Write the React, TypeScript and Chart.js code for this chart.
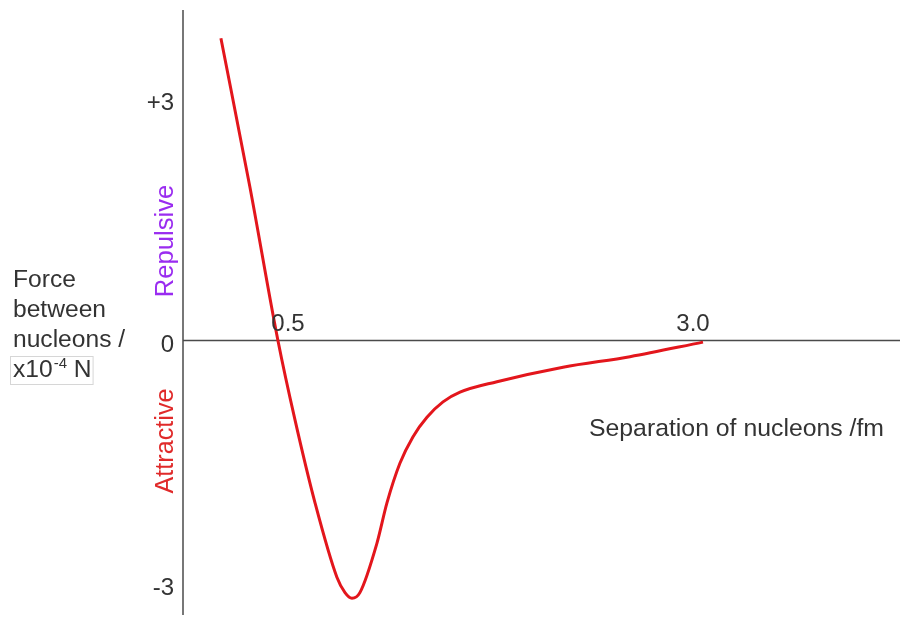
import React, { useEffect, useRef } from "react";
import { Chart, registerables } from "chart.js";

Chart.register(...registerables);

// Curve: separation (fm) vs force (x10^-4 N)
const separationFm: number[] = [0.086, 0.265, 0.438, 0.543, 0.667, 0.802, 0.852, 0.895, 0.944, 1.049, 1.111, 1.191, 1.272, 1.358, 1.457, 1.562, 1.79, 2.198, 2.611, 3.062];
const forceValues: number[] = [3.74, 1.9, 0.0, -0.98, -2.01, -2.93, -3.12, -3.19, -3.12, -2.51, -2.01, -1.52, -1.19, -0.95, -0.76, -0.64, -0.51, -0.33, -0.2, -0.02];

const xTickValues: number[] = [0.5, 3.0];
const xTickLabels: string[] = ["0.5", "3.0"];
const yTickValues: number[] = [3, 0, -3];
const yTickLabels: string[] = ["+3", "0", "-3"];

const yTitleLines: string[] = ["Force", "between", "nucleons /"];
const xTitle = "Separation of nucleons /fm";
const repulsiveLabel = "Repulsive";
const attractiveLabel = "Attractive";

const FONT = "'Liberation Sans', Arial, sans-serif";
const TEXT = "#333333";

const overlay = {
  id: "overlay",
  beforeDatasetsDraw(chart: any) {
    const { ctx, chartArea, scales } = chart;
    const y = scales.y;
    ctx.save();
    ctx.strokeStyle = "#4a4a4a";
    ctx.lineWidth = 1.5;
    const y0 = y.getPixelForValue(0);
    ctx.beginPath();
    ctx.moveTo(chartArea.left, chartArea.top);
    ctx.lineTo(chartArea.left, chartArea.bottom);
    ctx.stroke();
    ctx.beginPath();
    ctx.moveTo(chartArea.left, y0);
    ctx.lineTo(chartArea.right, y0);
    ctx.stroke();
    ctx.restore();
  },
  afterDatasetsDraw(chart: any) {
    const { ctx, chartArea, scales } = chart;
    const x = scales.x;
    const y = scales.y;
    const y0 = y.getPixelForValue(0);
    ctx.save();
    ctx.fillStyle = TEXT;
    ctx.font = `24px ${FONT}`;
    // x tick labels above the axis
    ctx.textAlign = "center";
    ctx.textBaseline = "alphabetic";
    xTickValues.forEach((v, i) => {
      ctx.fillText(xTickLabels[i], x.getPixelForValue(v), y0 - 9);
    });
    // y tick labels
    ctx.textAlign = "right";
    ctx.textBaseline = "middle";
    yTickValues.forEach((v, i) => {
      ctx.fillText(yTickLabels[i], chartArea.left - 9, y.getPixelForValue(v) + 5);
    });
    // y title block
    ctx.font = `24.6px ${FONT}`;
    ctx.textAlign = "left";
    ctx.textBaseline = "alphabetic";
    yTitleLines.forEach((t, i) => {
      ctx.fillText(t, 13, 287 + i * 30);
    });
    // x10^-4 N with box
    const bx = 13;
    const by = 377;
    ctx.fillText("x10", bx, by);
    const w = ctx.measureText("x10").width;
    ctx.font = `15px ${FONT}`;
    ctx.fillText("-4", bx + w + 1, by - 9);
    const w2 = ctx.measureText("-4").width;
    ctx.font = `24.6px ${FONT}`;
    ctx.fillText(" N", bx + w + 1 + w2, by);
    const w3 = ctx.measureText(" N").width;
    ctx.strokeStyle = "#d6d6d6";
    ctx.lineWidth = 1;
    ctx.strokeRect(10.5, 356.5, w + w2 + w3 + 5, 28);
    // x title
    ctx.font = `24.8px ${FONT}`;
    ctx.fillText(xTitle, 589, 436);
    // Repulsive / Attractive rotated
    ctx.textAlign = "center";
    ctx.textBaseline = "middle";
    ctx.save();
    ctx.translate(166, 241);
    ctx.rotate(-Math.PI / 2);
    ctx.font = `25.6px ${FONT}`;
    ctx.fillStyle = "#9a2cf0";
    ctx.fillText(repulsiveLabel, 0, 0);
    ctx.restore();
    ctx.save();
    ctx.translate(166, 441);
    ctx.rotate(-Math.PI / 2);
    ctx.font = `25.2px ${FONT}`;
    ctx.fillStyle = "#e02a2a";
    ctx.fillText(attractiveLabel, 0, 0);
    ctx.restore();
    ctx.restore();
  },
};

export default function App() {
  const ref = useRef<HTMLCanvasElement | null>(null);
  useEffect(() => {
    if (!ref.current) return;
    const chart = new Chart(ref.current, {
      type: "line",
      data: {
        datasets: [
          {
            data: separationFm.map((s, i) => ({ x: s, y: forceValues[i] })),
            borderColor: "#e3161c",
            borderWidth: 3,
            pointRadius: 0,
            cubicInterpolationMode: "monotone",
            fill: false,
          },
        ],
      },
      options: {
        responsive: false,
        animation: false,
        devicePixelRatio: 1,
        layout: { padding: { left: 183, right: 1, top: 10, bottom: 2 } },
        plugins: { legend: { display: false }, tooltip: { enabled: false }, title: { display: false } },
        scales: {
          x: { type: "linear", min: -0.148, max: 4.278, display: false },
          y: { type: "linear", min: -3.397, max: 4.09, display: false },
        },
      },
      plugins: [overlay],
    });
    return () => chart.destroy();
  }, []);
  return (
    <div style={{ position: "fixed", left: 0, top: 0, width: 901, height: 617, background: "#fff" }}>
      <canvas ref={ref} width={901} height={617} />
    </div>
  );
}
